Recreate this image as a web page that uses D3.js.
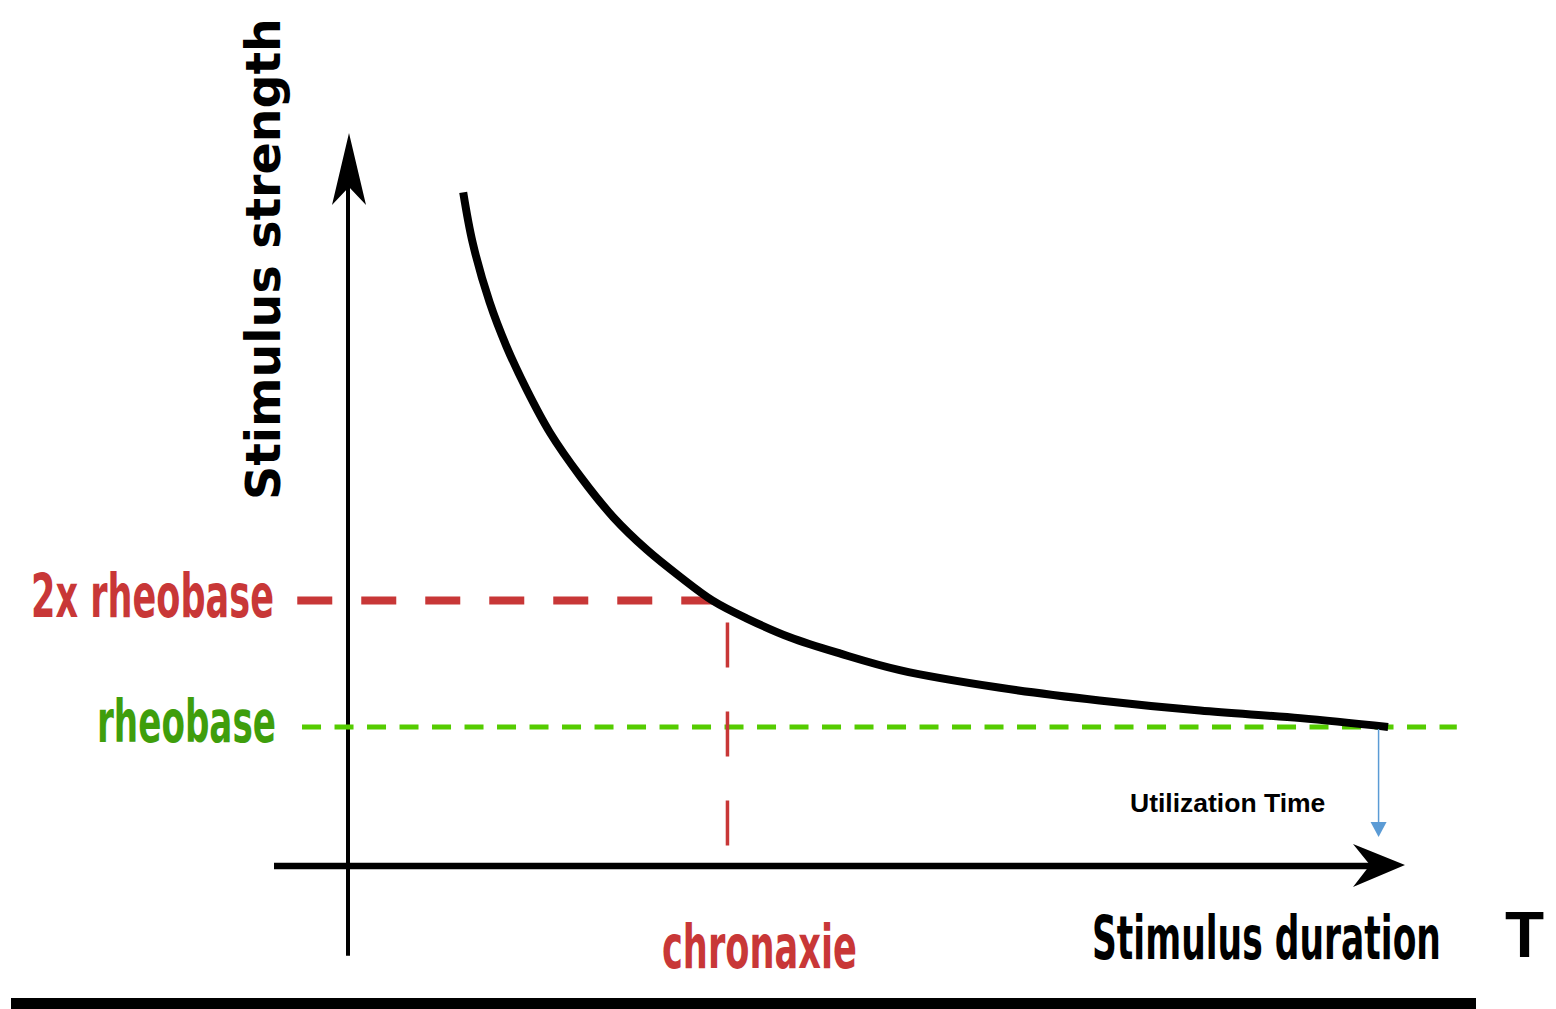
<!DOCTYPE html>
<html>
<head>
<meta charset="utf-8">
<script src="https://cdn.jsdelivr.net/npm/d3@7"></script>
<style>
  html, body { margin: 0; padding: 0; background: #ffffff; }
  svg { display: block; }
</style>
</head>
<body>
<div id="container"></div>
<script>
// strength-duration curve (arbitrary units: duration in ms, strength in multiples of rheobase)
const durations = [1.09, 1.18, 1.34, 1.50, 1.69, 1.91, 2.20, 2.51, 2.83, 3.14,
  3.45, 3.77, 4.18, 4.66, 5.22, 6.17, 7.11, 8.06, 9.01, 9.84];
const strengths = [5.23, 4.83, 4.36, 4.01, 3.67, 3.33, 2.98, 2.66, 2.40, 2.19,
  2.00, 1.86, 1.71, 1.58, 1.45, 1.31, 1.21, 1.13, 1.07, 1.00];

const rheobase = 1.0;
const twoRheobase = 2.0;
const chronaxie = 3.59;
const utilizationTime = 9.75;

const labels = ['2x rheobase', 'rheobase', 'chronaxie', 'Stimulus duration', 'Stimulus strength', 'Utilization Time', 'T'];

const width = 1556,
  height = 1009;

const red = '#c83737',
  greenLine = '#55cc00',
  greenText = '#3f9e0c',
  blue = '#5b9bd5';

const svg = d3.select('#container').append('svg')
  .attr('width', width)
  .attr('height', height);

const x = d3.scaleLinear().domain([0, 10]).range([348, 1405]);
const y = d3.scaleLinear().domain([-0.1, 5.7]).range([866, 133]);

// axes with arrow heads
svg.append('line')
  .attr('x1', x(0)).attr('x2', x(0))
  .attr('y1', y(-0.81)).attr('y2', y(5.4))
  .style('stroke', '#000').style('stroke-width', 4);

svg.append('path')
  .attr('d', 'M0,0 L-17,72 L0,54 L17,72 Z')
  .attr('transform', 'translate(' + (x(0) + 1) + ',' + y(5.7) + ')')
  .style('fill', '#000');

svg.append('line')
  .attr('x1', x(-0.7)).attr('x2', x(9.8))
  .attr('y1', y(-0.1)).attr('y2', y(-0.1))
  .style('stroke', '#000').style('stroke-width', 6.5);

svg.append('path')
  .attr('d', 'M0,0 L-52,-21 L-35,0 L-52,22 Z')
  .attr('transform', 'translate(' + x(10) + ',' + (y(-0.1) - 1) + ')')
  .style('fill', '#000');

// reference lines
svg.append('line')
  .attr('x1', x(-0.435)).attr('x2', x(10.49))
  .attr('y1', y(rheobase)).attr('y2', y(rheobase))
  .style('stroke', greenLine).style('stroke-width', 5)
  .style('stroke-dasharray', '19 13.5');

svg.append('line')
  .attr('x1', x(-0.48)).attr('x2', x(3.45))
  .attr('y1', y(twoRheobase)).attr('y2', y(twoRheobase))
  .style('stroke', red).style('stroke-width', 8)
  .style('stroke-dasharray', '35 29');

svg.append('line')
  .attr('x1', x(chronaxie)).attr('x2', x(chronaxie))
  .attr('y1', y(twoRheobase)).attr('y2', y(0.06))
  .style('stroke', red).style('stroke-width', 3.5)
  .style('stroke-dasharray', '45 44')
  .style('stroke-dashoffset', 67);

// the curve
const line = d3.line()
  .x((d, i) => x(durations[i]))
  .y(d => y(d))
  .curve(d3.curveCatmullRom.alpha(0.5));

svg.append('path')
  .datum(strengths)
  .attr('d', line)
  .style('fill', 'none')
  .style('stroke', '#000')
  .style('stroke-width', 8)
  .style('stroke-linecap', 'butt');

// utilization time arrow
const uy0 = y(rheobase), uy1 = y(0.13), ux = x(utilizationTime);
svg.append('line')
  .attr('x1', ux).attr('x2', ux)
  .attr('y1', uy0 + 2).attr('y2', uy1 - 14)
  .style('stroke', blue).style('stroke-width', 1.5);
svg.append('path')
  .attr('d', 'M' + (ux - 8) + ',' + (uy1 - 15) + ' L' + (ux + 8) + ',' + (uy1 - 15) + ' L' + ux + ',' + uy1 + ' Z')
  .style('fill', blue);

// labels: squeezed horizontally like the original drawing
const condensed = 'DejaVu Sans, Verdana, sans-serif';

function label(txt, px, py, len, size, color, rotate) {
  const t = svg.append('text')
    .style('font-family', condensed)
    .style('font-weight', 'bold')
    .style('font-size', size + 'px')
    .style('fill', color)
    .text(txt);
  const natural = t.node().getComputedTextLength();
  const k = len / natural;
  if (rotate) {
    t.attr('transform', 'translate(' + px + ',' + py + ') rotate(-90) scale(' + k + ',1)');
  } else {
    t.attr('transform', 'translate(' + px + ',' + py + ') scale(' + k + ',1)');
  }
  return t;
}

label(labels[0], 31, 617, 243, 60, red);
label(labels[1], 97, 742, 179, 59, greenText);
label(labels[2], 662, 968, 195, 60, red);
label(labels[3], 1092, 959, 349, 60, '#000');
label(labels[4], 280, 500, 482, 48, '#000', true);

svg.append('text')
  .attr('x', 1130)
  .attr('y', 812)
  .style('font-family', 'Liberation Sans, Arial, sans-serif')
  .style('font-weight', 'bold')
  .style('font-size', '26.5px')
  .style('fill', '#000')
  .text(labels[5]);

svg.append('text')
  .attr('x', 1505)
  .attr('y', 957)
  .style('font-family', 'Liberation Sans, Arial, sans-serif')
  .style('font-weight', 'bold')
  .style('font-size', '64px')
  .style('fill', '#000')
  .text(labels[6]);

// bottom rule
svg.append('rect')
  .attr('x', 11)
  .attr('y', 998)
  .attr('width', 1465)
  .attr('height', 11)
  .style('fill', '#000');
</script>
</body>
</html>
